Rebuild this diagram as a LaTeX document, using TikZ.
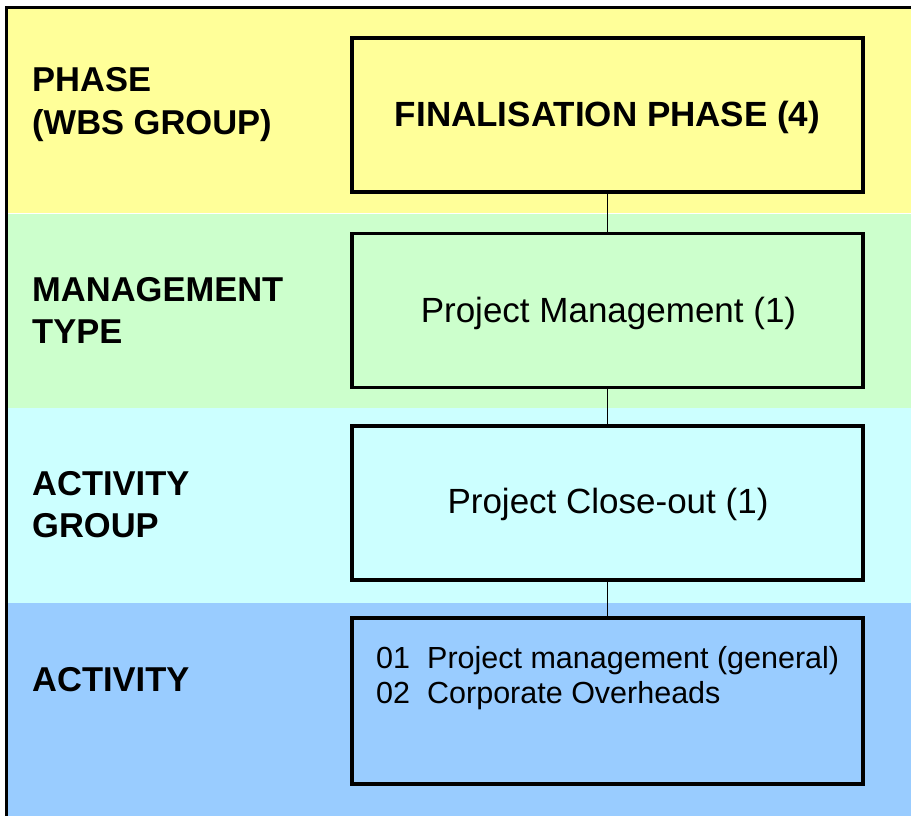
\documentclass[tikz,border=0pt]{standalone}
\usepackage{fontspec}
\setmainfont{Liberation Sans}
\definecolor{bandY}{HTML}{FFFF99}
\definecolor{bandG}{HTML}{CCFFCC}
\definecolor{bandC}{HTML}{CCFFFF}
\definecolor{bandB}{HTML}{99CCFF}
\begin{document}
\begin{tikzpicture}[x=1pt,y=-1pt,
  lvlbox/.style={draw=black,line width=3.5pt,minimum width=511pt,minimum height=154pt,inner sep=0pt},
  lbl/.style={anchor=base west,inner sep=0pt,font=\fontsize{34.5}{43}\selectfont\bfseries,align=left},
  conn/.style={draw=black,line width=1.3pt}]
\useasboundingbox (0,0) rectangle (911,816);
% bands
\fill[bandY] (6,7) rectangle (911,213);
\fill[bandG] (6,213) rectangle (911,408);
\fill[bandC] (6,408) rectangle (911,603);
\fill[bandB] (6,603) rectangle (911,816);
\draw[white,line width=0.8pt] (6,213) -- (911,213);
% frame
\draw[black,line width=3.5pt] (6.5,816) -- (6.5,7.5) -- (911,7.5);
% boxes
\node[lvlbox,fill=bandY] (box1) at (607.5,115) {};
\node[lvlbox,fill=bandG] (box2) at (607.5,310.5) {};
\node[lvlbox,fill=bandC] (box3) at (607.5,503) {};
\node[lvlbox,fill=bandB,minimum height=166pt] (box4) at (607.5,701) {};
% connectors
\draw[conn] (box1.south) -- (box2.north);
\draw[conn] (box2.south) -- (box3.north);
\draw[conn] (box3.south) -- (box4.north);
% box texts
\node[font=\fontsize{35}{40}\selectfont\bfseries,anchor=base] (t1) at (607.5,127) {FINALISATION PHASE (4)};
\node[font=\fontsize{35}{40}\selectfont,anchor=base] (t2) at (608.5,322) {Project Management (1)};
\node[font=\fontsize{35}{40}\selectfont,anchor=base] (t3) at (608,513) {Project Close-out (1)};
\node[font=\fontsize{30.5}{35}\selectfont,anchor=base west,inner sep=0pt] (t4a) at (376,668) {\makebox[51pt][l]{01}Project management (general)};
\node[font=\fontsize{30.5}{35}\selectfont,anchor=base west,inner sep=0pt] (t4b) at (376,703) {\makebox[51pt][l]{02}Corporate Overheads};
% left labels
\node[lbl] (l1a) at (32,92) {PHASE};
\node[lbl] (l1b) at (32,135) {(WBS GROUP)};
\node[lbl] (l2a) at (32,301) {MANAGEMENT};
\node[lbl] (l2b) at (32,343) {TYPE};
\node[lbl] (l3a) at (32,495) {ACTIVITY};
\node[lbl] (l3b) at (32,537) {GROUP};
\node[lbl] (l4) at (32,691) {ACTIVITY};
\end{tikzpicture}
\end{document}
